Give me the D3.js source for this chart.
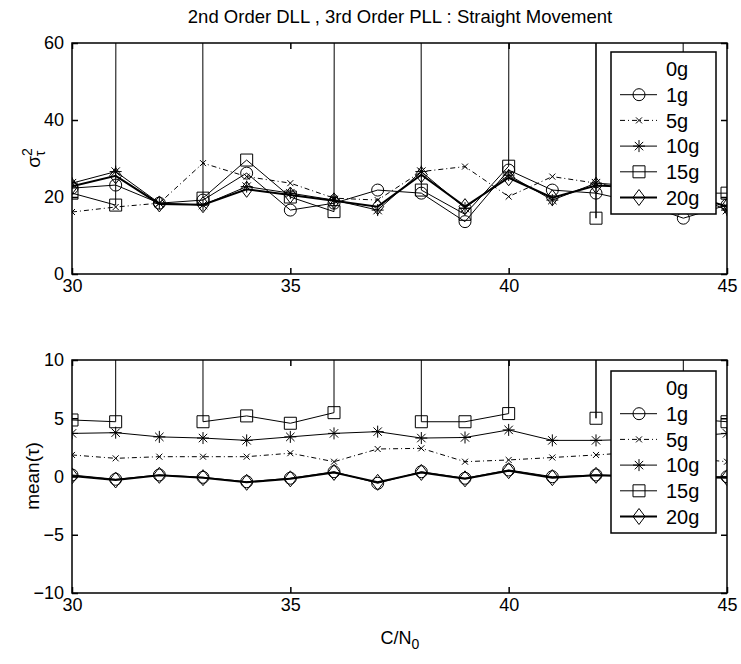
<!DOCTYPE html>
<html>
<head>
<meta charset="utf-8">
<script src="https://cdn.jsdelivr.net/npm/d3@7/dist/d3.min.js"></script>
<style>
body { margin: 0; background: #fff; }
text { font-family: "Liberation Sans", Arial, sans-serif; fill: #000; }
</style>
</head>
<body>
<svg id="chart" width="741" height="664"></svg>
<script>
// C/N0 grid
var cn0 = [30, 31, 32, 33, 34, 35, 36, 37, 38, 39, 40, 41, 42, 43, 44, 45];
// diverged runs (way off the top of the axes)
var BIG = 1e4;

var seriesNames = ['0g', '1g', '5g', '10g', '15g', '20g'];

// variance of tau
var var1g  = [22.3, 23.1, 18.4, 19.2, 26.2, 16.6, 18.4, 21.8, 21.0, 13.6, 27.0, 21.8, 21.0, 18.5, 14.5, 17.9];
var var5g  = [16.1, 17.4, 18.4, 28.8, 25.3, 23.6, 19.7, 19.2, 26.6, 27.9, 20.1, 25.3, 23.6, 21.5, 20.0, 17.5];
var var10g = [23.6, 26.6, 18.4, 17.9, 22.7, 21.0, 19.2, 16.6, 26.6, 17.1, 25.7, 19.2, 23.6, 22.8, 21.5, 16.6];
var var15g = [21.0, 17.9, BIG, 19.7, 29.6, 20.0, 16.2, BIG, 21.8, 15.5, 28.0, BIG, 14.5, BIG, 21.0, 21.0];
var var20g = [22.8, 25.5, 18.2, 18.0, 22.0, 20.5, 19.0, 17.5, 25.8, 17.5, 25.0, 19.8, 23.0, 22.5, 21.0, 17.5];

// mean of tau
var mean1g  = [0.13, -0.24, 0.13, -0.07, -0.45, -0.15, 0.41, -0.58, 0.41, -0.15, 0.56, -0.02, 0.13, 0.05, 0.0, -0.02];
var mean5g  = [1.85, 1.56, 1.7, 1.7, 1.7, 2.0, 1.27, 2.36, 2.42, 1.27, 1.42, 1.63, 1.85, 2.1, 1.6, 1.27];
var mean10g = [3.7, 3.76, 3.4, 3.3, 3.1, 3.4, 3.7, 3.85, 3.3, 3.35, 4.0, 3.1, 3.1, 3.2, 3.4, 3.7];
var mean15g = [4.85, 4.7, BIG, 4.7, 5.2, 4.57, 5.48, BIG, 4.7, 4.7, 5.4, BIG, 5.0, BIG, 5.0, 4.7];
var mean20g = [0.05, -0.3, 0.1, -0.1, -0.5, -0.2, 0.35, -0.5, 0.35, -0.2, 0.5, -0.1, 0.1, 0.0, -0.05, -0.1];

var xTicks = [30, 35, 40, 45];
var varTicks = [0, 20, 40, 60];
var meanTicks = [-10, -5, 0, 5, 10];

var svg = d3.select('#chart');

var styles = {
    '0g':  null,
    '1g':  {width: 1, dash: null, marker: 'circle'},
    '5g':  {width: 1, dash: '5,3,1,3', marker: 'x'},
    '10g': {width: 1, dash: null, marker: 'star'},
    '15g': {width: 1, dash: null, marker: 'square'},
    '20g': {width: 2, dash: null, marker: 'diamond'}
};

function markerPath(type) {
    switch (type) {
        case 'circle': return d3.symbol().type(d3.symbolCircle).size(Math.PI * 36)();
        case 'square': return 'M-6,-6H6V6H-6Z';
        case 'diamond': return 'M0,-8L6,0L0,8L-6,0Z';
        case 'x': return 'M-3,-3L3,3M-3,3L3,-3';
        case 'star': return 'M-6,0H6M0,-6V6M-4.2,-4.2L4.2,4.2M-4.2,4.2L4.2,-4.2';
    }
}

function drawPanel(opt, idx) {
    var x = d3.scaleLinear().domain([30, 45]).range([72, 727]);
    var y = d3.scaleLinear().domain(opt.domain).range([opt.bottom, opt.top]);
    var g = svg.append('g');

    var clipId = 'clip' + idx;
    svg.append('clipPath').attr('id', clipId)
        .append('rect')
        .attr('x', 72).attr('y', opt.top)
        .attr('width', 655).attr('height', opt.bottom - opt.top);

    var plot = g.append('g').attr('clip-path', 'url(#' + clipId + ')');
    var line = d3.line().x(function(d, i) { return x(cn0[i]); }).y(function(d) { return y(d); });

    opt.series.forEach(function(s) {
        var st = styles[s.name];
        plot.append('path')
            .datum(s.values)
            .attr('d', line)
            .attr('fill', 'none')
            .attr('stroke', '#000')
            .attr('stroke-width', st.width)
            .attr('stroke-dasharray', st.dash);
        plot.selectAll(null)
            .data(s.values.map(function(v, i) { return [cn0[i], v]; }).filter(function(p) { return p[1] < BIG; }))
            .enter().append('path')
            .attr('transform', function(p) { return 'translate(' + x(p[0]) + ',' + y(p[1]) + ')'; })
            .attr('d', markerPath(st.marker))
            .attr('fill', 'none')
            .attr('stroke', '#000')
            .attr('stroke-width', 1);
    });

    // box and inward ticks
    g.append('rect')
        .attr('x', 72).attr('y', opt.top)
        .attr('width', 655).attr('height', opt.bottom - opt.top)
        .attr('fill', 'none').attr('stroke', '#000').attr('stroke-width', 1.5);

    g.append('g').attr('transform', 'translate(0,' + opt.bottom + ')')
        .call(d3.axisBottom(x).tickValues(xTicks).tickSize(-6).tickPadding(5));
    g.append('g').attr('transform', 'translate(0,' + opt.top + ')')
        .call(d3.axisTop(x).tickValues(xTicks).tickSize(-6).tickFormat(''));
    g.append('g').attr('transform', 'translate(72,0)')
        .call(d3.axisLeft(y).tickValues(opt.ticks).tickSize(-6).tickPadding(8));
    g.append('g').attr('transform', 'translate(727,0)')
        .call(d3.axisRight(y).tickValues(opt.ticks).tickSize(-6).tickFormat(''));
    g.selectAll('.domain').remove();
    g.selectAll('.tick line').attr('stroke', '#000').attr('stroke-width', 1.5);
    g.selectAll('.tick text').attr('font-size', 18).attr('font-family', null);

    // legend
    var lg = g.append('g').attr('transform', 'translate(611,' + opt.legendTop + ')');
    lg.append('rect').attr('width', 105).attr('height', 162)
        .attr('fill', '#fff').attr('stroke', '#000').attr('stroke-width', 1.5);
    seriesNames.forEach(function(name, i) {
        var yy = 17 + i * 25.7;
        var st = styles[name];
        if (st) {
            lg.append('line').attr('x1', 9).attr('x2', 46).attr('y1', yy).attr('y2', yy)
                .attr('stroke', '#000').attr('stroke-width', st.width)
                .attr('stroke-dasharray', st.dash);
            lg.append('path').attr('transform', 'translate(28,' + yy + ')')
                .attr('d', markerPath(st.marker))
                .attr('fill', 'none').attr('stroke', '#000');
        }
        lg.append('text').attr('x', 55).attr('y', yy).attr('dy', '0.36em')
            .attr('font-size', 20).text(name);
    });
}

drawPanel({
    domain: [0, 60], top: 43, bottom: 274, ticks: varTicks, legendTop: 52,
    series: [
        {name: '1g', values: var1g}, {name: '5g', values: var5g}, {name: '10g', values: var10g},
        {name: '15g', values: var15g}, {name: '20g', values: var20g}
    ]
}, 0);

drawPanel({
    domain: [-10, 10], top: 360, bottom: 593, ticks: meanTicks, legendTop: 371,
    series: [
        {name: '1g', values: mean1g}, {name: '5g', values: mean5g}, {name: '10g', values: mean10g},
        {name: '15g', values: mean15g}, {name: '20g', values: mean20g}
    ]
}, 1);

// titles and axis labels
svg.append('text').attr('x', 400).attr('y', 23).attr('text-anchor', 'middle')
    .attr('font-size', 18.5).text('2nd Order DLL , 3rd Order PLL : Straight Movement');

var yl1 = svg.append('text').attr('transform', 'translate(40,158) rotate(-90)')
    .attr('text-anchor', 'middle').attr('font-size', 19);
yl1.append('tspan').text('σ');
yl1.append('tspan').attr('font-size', 14).attr('dy', -8).text('2');
yl1.append('tspan').attr('font-size', 14).attr('dx', -8).attr('dy', 13).text('τ');

svg.append('text').attr('transform', 'translate(39,476) rotate(-90)')
    .attr('text-anchor', 'middle').attr('font-size', 19).text('mean(τ)');

var xl = svg.append('text').attr('x', 400).attr('y', 644).attr('text-anchor', 'middle').attr('font-size', 18);
xl.append('tspan').text('C/N');
xl.append('tspan').attr('font-size', 14).attr('dy', 5).text('0');
</script>
</body>
</html>
